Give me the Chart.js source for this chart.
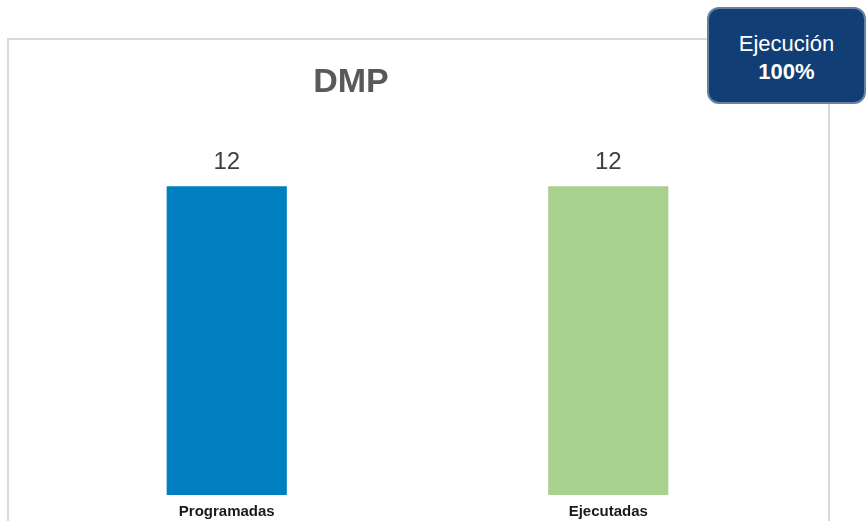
<!DOCTYPE html>
<html>
<head>
<meta charset="utf-8">
<script src="https://cdn.jsdelivr.net/npm/chart.js@4"></script>
<style>
  body { margin: 0; background: #fff; font-family: "Liberation Sans", Arial, sans-serif; }
  #wrap { position: relative; width: 866px; height: 521px; overflow: hidden; }
  #frame { position: absolute; left: 7px; top: 38px; width: 819px; height: 500px; border: 2px solid #d9d9d9; }
  #title { position: absolute; left: 251px; width: 200px; top: 61px; text-align: center; font-size: 34px; line-height: 38px; font-weight: bold; color: #595959; }
  #badge { position: absolute; left: 707px; top: 7px; width: 159px; height: 97px; background: #113e74; border: 2px solid #6383a5;
           border-radius: 12px; color: #fff; text-align: center; font-size: 22px; line-height: 28px; box-sizing: border-box; padding-top: 21px; }
  canvas { position: absolute; left: 0; top: 0; }
</style>
</head>
<body>
<div id="wrap">
  <div id="frame"></div>
  <canvas id="myChart" width="866" height="529"></canvas>
  <div id="title">DMP</div>
  <div id="badge">Ejecución<br><b>100%</b></div>
</div>
<script>
/*Bar chart DMP*/
const labels = ["Programadas", "Ejecutadas"];
const values = [12, 12];
const colors = ["#0080c0", "#a9d18e"];

const valueLabels = {
  id: "valueLabels",
  afterDatasetsDraw(chart) {
    const ctx = chart.ctx;
    const meta = chart.getDatasetMeta(0);
    ctx.save();
    ctx.font = "24px 'Liberation Sans', Arial, sans-serif";
    ctx.fillStyle = "#404040";
    ctx.textAlign = "center";
    ctx.textBaseline = "bottom";
    meta.data.forEach(function (bar, i) {
      ctx.fillText(values[i], bar.x, bar.y - 12);
    });
    ctx.restore();
  },
};

const config = {
  type: "bar",
  data: {
    labels: labels,
    datasets: [
      {
        data: values,
        backgroundColor: colors,
        borderWidth: 0,
        barPercentage: 0.63,
        categoryPercentage: 0.5,
      },
    ],
  },
  options: {
    responsive: false,
    animation: false,
    layout: { padding: { left: 36, right: 67, top: 109, bottom: 0 } },
    plugins: { legend: { display: false }, tooltip: { enabled: false } },
    scales: {
      x: {
        grid: { display: false, drawTicks: false },
        border: { display: false },
        ticks: {
          padding: 8,
          color: "#1a1a1a",
          font: { family: "'Liberation Sans', Arial, sans-serif", size: 15, weight: "bold" },
        },
      },
      y: { display: false, min: 0, max: 15 },
    },
  },
  plugins: [valueLabels],
};
var myChart = new Chart(document.getElementById("myChart"), config);
</script>
</body>
</html>
